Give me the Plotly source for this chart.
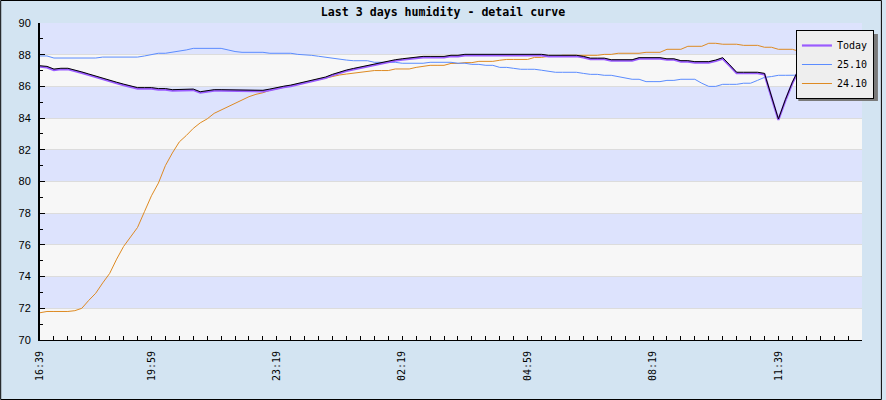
import plotly.graph_objects as go

# ---------------- data ----------------
x_tick_index = [0, 16, 34, 52, 70, 88, 106]
x_tick_labels = ["16:39", "19:59", "23:19", "02:19", "04:59", "08:19", "11:39"]
x_last_index = 118

y_ticks = [70, 72, 74, 76, 78, 80, 82, 84, 86, 88, 90]

today = [
    87.24, 87.2, 87.03, 87.08, 87.08, 86.98, 86.85, 86.72, 86.58, 86.45,
    86.32, 86.2, 86.08, 85.96, 85.86, 85.86, 85.86, 85.8, 85.8, 85.73,
    85.73, 85.77, 85.77, 85.6, 85.65, 85.73, 85.73, 85.73, 85.73, 85.69,
    85.69, 85.69, 85.69, 85.77, 85.88, 85.95, 86.02, 86.13, 86.22, 86.32,
    86.42, 86.53, 86.7, 86.85, 86.97, 87.07, 87.17, 87.27, 87.35, 87.45,
    87.55, 87.62, 87.68, 87.73, 87.78, 87.83, 87.83, 87.83, 87.83, 87.9,
    87.9, 87.96, 87.96, 87.96, 87.96, 87.96, 87.96, 87.96, 87.96, 87.96,
    87.96, 87.96, 87.96, 87.9, 87.9, 87.9, 87.9, 87.9, 87.83, 87.72,
    87.72, 87.72, 87.62, 87.62, 87.62, 87.62, 87.75, 87.75, 87.75, 87.75,
    87.68, 87.68, 87.56, 87.56, 87.5, 87.5, 87.5, 87.6, 87.75, 87.3,
    86.83, 86.83, 86.83, 86.83, 86.76, 85.3, 83.88, 85.1, 86.2, 87.1,
    87.9,
]

day_25_10 = [
    87.92, 87.92, 87.79, 87.79, 87.79, 87.79, 87.79, 87.79, 87.79, 87.85,
    87.85, 87.85, 87.85, 87.85, 87.85, 87.92, 88.02, 88.09, 88.09, 88.15,
    88.2, 88.3, 88.4, 88.4, 88.4, 88.4, 88.4, 88.3, 88.2, 88.15,
    88.15, 88.15, 88.15, 88.09, 88.09, 88.09, 88.09, 88.02, 88.0, 87.96,
    87.9, 87.83, 87.77, 87.7, 87.66, 87.62, 87.62, 87.62, 87.52, 87.52,
    87.52, 87.52, 87.46, 87.46, 87.46, 87.46, 87.52, 87.52, 87.52, 87.52,
    87.46, 87.46, 87.39, 87.39, 87.33, 87.33, 87.2, 87.2, 87.14, 87.08,
    87.08, 87.08, 87.02, 86.96, 86.89, 86.89, 86.89, 86.89, 86.82, 86.76,
    86.76, 86.7, 86.7, 86.62, 86.55, 86.45, 86.45, 86.3, 86.3, 86.3,
    86.38, 86.38, 86.45, 86.45, 86.45, 86.2, 86.0, 86.0, 86.13, 86.13,
    86.13, 86.2, 86.2, 86.38, 86.57, 86.62, 86.7, 86.7, 86.7, 86.7,
    86.7, 86.72, 86.72, 86.75, 86.75, 86.78, 86.78, 86.8, 86.8,
]

day_24_10 = [
    71.72, 71.8, 71.8, 71.8, 71.8, 71.85, 72.0, 72.5, 72.95, 73.6,
    74.2, 75.1, 75.9, 76.5, 77.1, 78.1, 79.1, 79.9, 81.0, 81.8,
    82.5, 82.9, 83.35, 83.7, 83.95, 84.3, 84.5, 84.7, 84.95, 85.15,
    85.35, 85.5, 85.6, 85.75, 85.85, 85.95, 86.05, 86.15, 86.25, 86.35,
    86.45, 86.55, 86.65, 86.72, 86.78, 86.83, 86.89, 86.95, 87.0, 87.0,
    87.0, 87.1, 87.1, 87.1, 87.2, 87.25, 87.33, 87.33, 87.33, 87.45,
    87.45, 87.5, 87.5, 87.58, 87.58, 87.58, 87.65, 87.7, 87.7, 87.7,
    87.7, 87.83, 87.83, 87.9, 87.9, 87.96, 87.96, 87.96, 87.96, 87.96,
    87.96, 88.02, 88.02, 88.09, 88.09, 88.09, 88.09, 88.15, 88.15, 88.15,
    88.34, 88.34, 88.34, 88.53, 88.53, 88.53, 88.72, 88.72, 88.66, 88.66,
    88.66, 88.59, 88.59, 88.59, 88.47, 88.47, 88.34, 88.34, 88.34, 88.21,
    88.21, 88.2, 88.2, 88.15, 88.15, 88.1, 88.1, 88.1, 88.1,
]

# ---------------- style ----------------
W, H = 886, 400
ML, MR, MT, MB = 40, 20, 23, 60
PW, PH = W - ML - MR, H - MT - MB
BG = "#d3e4f2"
BAND_A = "#dde3fd"
BAND_B = "#f7f7f7"
PURPLE = "#9a5cff"
BLUE = "#5b8cff"
ORANGE = "#de8a22"
YMIN, YMAX = y_ticks[0], y_ticks[-1]
px_unit = (YMAX - YMIN) / PH

fig = go.Figure()

fig.add_trace(go.Scatter(x=list(range(len(day_24_10))), y=day_24_10, mode="lines",
                         name="24.10", legendrank=3,
                         line=dict(color=ORANGE, width=1)))
fig.add_trace(go.Scatter(x=list(range(len(day_25_10))), y=day_25_10, mode="lines",
                         name="25.10", legendrank=2,
                         line=dict(color=BLUE, width=1)))
fig.add_trace(go.Scatter(x=list(range(len(today))), y=today, mode="lines",
                         name="Today", legendrank=1,
                         line=dict(color=PURPLE, width=2.2)))
fig.add_trace(go.Scatter(x=list(range(len(today))), y=today, mode="lines",
                         showlegend=False, yaxis="y2", hoverinfo="skip",
                         line=dict(color="black", width=1)))

shapes = []
for k in range(len(y_ticks) - 1):
    shapes.append(dict(type="rect", xref="paper", yref="y", x0=0, x1=1,
                       y0=y_ticks[k], y1=y_ticks[k + 1],
                       fillcolor=BAND_B if k % 2 == 0 else BAND_A,
                       line=dict(width=0), layer="below"))

# outer frame
shapes.append(dict(type="rect", xref="paper", yref="paper",
                   x0=(0.5 - ML) / PW, x1=(W - 0.5 - ML) / PW,
                   y0=-(MB - 0.5) / PH, y1=(MT + PH - 0.5) / PH,
                   line=dict(color="black", width=1), layer="above"))

# legend box (pixels) and its drop shadow
LX1, LY0 = 878, 30
LW, LH = 80, 67
shapes.append(dict(type="rect", xref="paper", yref="paper",
                   x0=(LX1 - LW + 4 - ML) / PW, x1=(LX1 + 4 - ML) / PW,
                   y0=(MT + PH - (LY0 + LH + 4)) / PH, y1=(MT + PH - (LY0 + 4)) / PH,
                   fillcolor="#7a7a7a", line=dict(width=0), layer="above"))

fig.update_layout(
    width=W, height=H, autosize=False,
    margin=dict(l=ML, r=MR, t=MT, b=MB, pad=0),
    paper_bgcolor=BG, plot_bgcolor=BAND_B,
    shapes=shapes,
    title=dict(text="Last 3 days humidity - detail curve",
               font=dict(family="DejaVu Sans Mono", size=11.6, color="black", weight="bold"),
               x=0.5, xref="container", xanchor="center",
               y=1 - 12 / H, yref="container", yanchor="middle"),
    showlegend=True,
    legend=dict(x=(LX1 - ML) / PW, y=(MT + PH - LY0) / PH, xanchor="right", yanchor="top",
                bgcolor="#eeeeee", bordercolor="black", borderwidth=1,
                font=dict(family="DejaVu Sans Mono", size=10, color="black"),
                itemwidth=30, tracegroupgap=0),
    xaxis=dict(range=[0, x_last_index], tickmode="array", tickvals=x_tick_index,
               ticktext=x_tick_labels, tickangle=-90,
               tickfont=dict(family="DejaVu Sans Mono", size=10, color="black"),
               ticks="inside", ticklen=4, tickcolor="black", tickwidth=1,
               ticklabelstandoff=6,
               minor=dict(tickmode="linear", tick0=0, dtick=2, ticks="inside",
                          ticklen=4, tickcolor="black", tickwidth=1, showgrid=False),
               showline=True, linecolor="black", linewidth=1,
               showgrid=False, zeroline=False, fixedrange=True, automargin=False),
    yaxis=dict(range=[YMIN, YMAX], tickmode="array", tickvals=y_ticks,
               tickfont=dict(family="Liberation Sans", size=11, color="black"),
               ticks="inside", ticklen=5, tickcolor="black", tickwidth=1,
               ticklabelstandoff=5,
               minor=dict(tickmode="linear", tick0=YMIN, dtick=1, ticks="inside",
                          ticklen=3, tickcolor="black", tickwidth=1, showgrid=False),
               showline=True, linecolor="black", linewidth=2,
               showgrid=True, gridcolor="#dcdcdc", gridwidth=1,
               zeroline=False, fixedrange=True, automargin=False),
    yaxis2=dict(range=[YMIN - px_unit, YMAX - px_unit], overlaying="y",
                visible=False, fixedrange=True),
)

fig.write_html("out.html", config={"displayModeBar": False},
               post_script="document.body.style.margin='0';document.body.style.overflow='hidden';")
